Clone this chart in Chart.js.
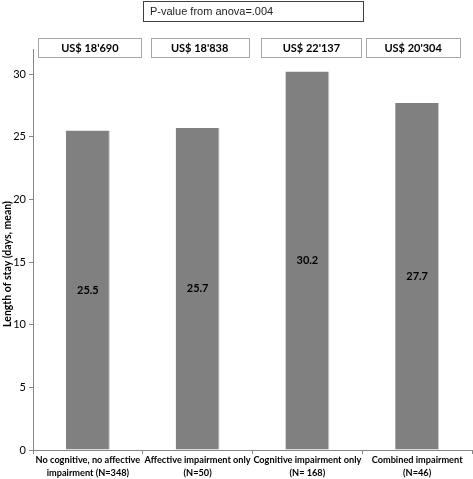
<!DOCTYPE html>
<html>
<head>
<meta charset="utf-8">
<script src="https://cdn.jsdelivr.net/npm/chart.js@4"></script>
<style>
html,body{margin:0;padding:0;background:#fff;}
#wrap{width:473px;height:479px;position:relative;}
</style>
</head>
<body>
<div id="wrap"><canvas id="c" width="473" height="479"></canvas></div>
<script>
const categories = [
  ["No cognitive, no affective", "impairment (N=348)"],
  ["Affective impairment only", "(N=50)"],
  ["Cognitive impairment only", "(N= 168)"],
  ["Combined impairment", "(N=46)"]
];
const lengthOfStay = [25.5, 25.7, 30.2, 27.7];
const costLabels = ["US$ 18'690", "US$ 18'838", "US$ 22'137", "US$ 20'304"];
const yTicks = [0, 5, 10, 15, 20, 25, 30];
const pValueText = "P-value from anova=.004";
const yTitle = "Length of stay (days, mean)";

const FONT = "Lato, 'Liberation Sans', sans-serif";

const overlay = {
  id: 'overlay',
  afterDatasetsDraw(chart) {
    const ctx = chart.ctx;
    const xs = chart.scales.x;
    ctx.save();
    // value labels in middle of bars
    ctx.fillStyle = '#000';
    ctx.font = "bold 11px " + FONT;
    ctx.textAlign = 'center';
    ctx.textBaseline = 'middle';
    const meta = chart.getDatasetMeta(0);
    meta.data.forEach((bar, i) => {
      const mid = (bar.y + bar.base) / 2;
      ctx.fillText(lengthOfStay[i].toFixed(1), bar.x, mid);
    });
    // cost boxes
    const boxW = [103, 98, 100, 94];
    ctx.font = "bold 11px " + FONT;
    costLabels.forEach((t, i) => {
      const cx = xs.getPixelForValue(i) + [2, 2, 4, -4][i];
      const w = boxW[i];
      ctx.fillStyle = '#fff';
      ctx.fillRect(cx - w / 2, 38, w, 19);
      ctx.strokeStyle = '#a6a6a6';
      ctx.lineWidth = 1;
      ctx.strokeRect(Math.round(cx - w / 2) + 0.5, 38.5, w, 19);
      ctx.fillStyle = '#000';
      ctx.fillText(t, cx, 48);
    });
    // p-value box
    ctx.strokeStyle = '#404040';
    ctx.lineWidth = 1;
    ctx.strokeRect(143.5, 1.5, 220, 20);
    ctx.fillStyle = '#222';
    ctx.font = "11px 'Liberation Sans', Arial, sans-serif";
    ctx.textAlign = 'left';
    ctx.fillText(pValueText, 150, 12);
    // y axis title
    ctx.translate(8, 264);
    ctx.rotate(-Math.PI / 2);
    ctx.textAlign = 'center';
    ctx.fillStyle = '#000';
    ctx.font = "bold 10.5px " + FONT;
    ctx.fillText(yTitle, 0, 0);
    ctx.restore();
  }
};

new Chart(document.getElementById('c'), {
  type: 'bar',
  data: {
    labels: categories,
    datasets: [{
      data: lengthOfStay,
      backgroundColor: '#808080',
      borderColor: '#c8c8c8',
      borderWidth: {top: 0, left: 0, bottom: 0, right: 1},
      borderSkipped: false,
      categoryPercentage: 1.0,
      barPercentage: 0.4
    }]
  },
  options: {
    responsive: false,
    animation: false,
    devicePixelRatio: 1,
    layout: {padding: {top: 49, right: 1, left: 0, bottom: 0}},
    plugins: {legend: {display: false}, tooltip: {enabled: false}},
    scales: {
      x: {
        offset: true,
        grid: {display: true, offset: true, drawOnChartArea: false, drawTicks: true, tickLength: 4, color: '#868686'},
        border: {display: true, color: '#868686', width: 1},
        ticks: {color: '#000', font: {family: FONT, size: 9.2, weight: 'bold', lineHeight: 1.4}, maxRotation: 0, autoSkip: false, padding: 0},
        afterFit(s) { s.height = 29; }
      },
      y: {
        min: 0, max: 32,
        afterBuildTicks(s) { s.ticks = yTicks.map(v => ({value: v})); },
        grid: {display: true, drawOnChartArea: false, drawTicks: true, tickLength: 4, color: '#868686'},
        border: {display: true, color: '#868686', width: 1},
        ticks: {color: '#000', font: {family: FONT, size: 11}, padding: 3},
        afterFit(s) { s.width = 33; }
      }
    }
  },
  plugins: [overlay]
});
</script>
</body>
</html>
